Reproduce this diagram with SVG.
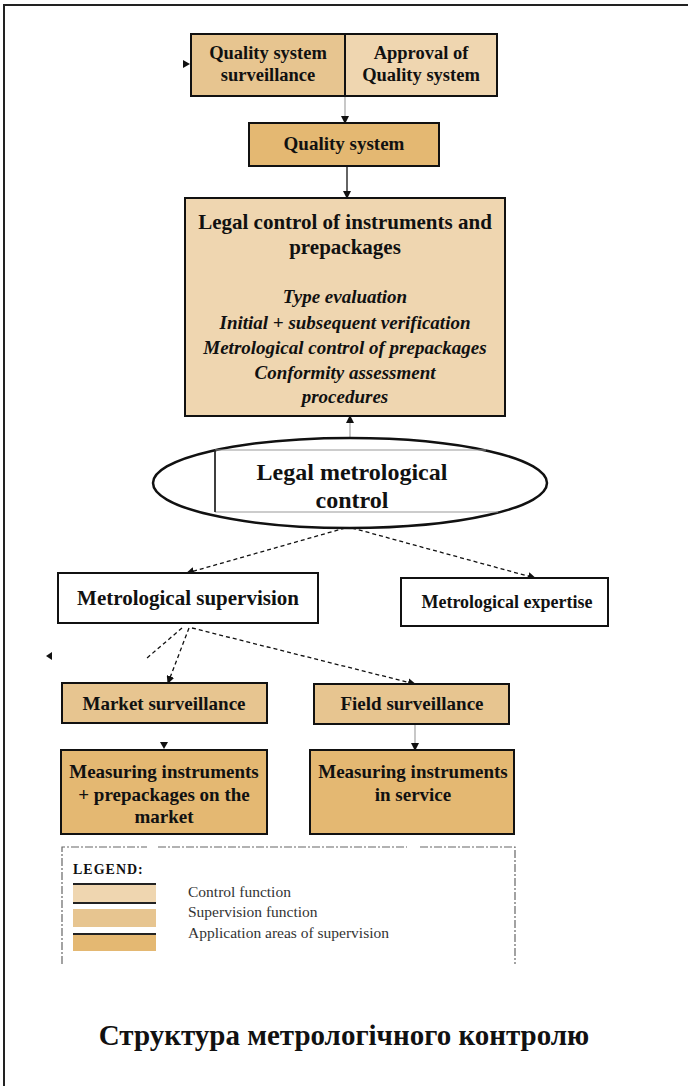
<svg xmlns="http://www.w3.org/2000/svg" width="688" height="1086" viewBox="0 0 688 1086">
<defs>
<style>
.b{stroke:#111;stroke-width:2}
.ctl{fill:#EFD6B0}
.sup{fill:#E7C590}
.app{fill:#E4B872}
.t{font-family:"Liberation Serif","Times New Roman",serif;font-weight:bold;fill:#111;text-anchor:middle}
.i{font-family:"Liberation Serif","Times New Roman",serif;font-weight:bold;font-style:italic;fill:#111;text-anchor:middle}
.lg{font-family:"Liberation Serif","Times New Roman",serif;fill:#333;font-size:15.5px}
.c{fill:none;stroke:#111;stroke-width:1.3}
.g{fill:none;stroke:#aaa;stroke-width:1.3}
.d{fill:none;stroke:#111;stroke-width:1.3;stroke-dasharray:4 3}
</style>
<marker id="ah" markerWidth="8" markerHeight="8" refX="7" refY="4" orient="auto" markerUnits="userSpaceOnUse">
<path d="M0,0 L8,4 L0,8 Z" fill="#111"/>
</marker>
</defs>
<rect x="0" y="0" width="688" height="1086" fill="#fff"/>
<path d="M4,1086 V5 H688" fill="none" stroke="#222" stroke-width="2"/>

<g id="connectors">
<path class="g" d="M345,96 V123" marker-end="url(#ah)"/>
<path class="c" d="M347,166 V198" marker-end="url(#ah)"/>
<path class="g" d="M350,438 V416" marker-end="url(#ah)"/>
<path class="d" d="M345,528 L187,573" marker-end="url(#ah)"/>
<path class="d" d="M352,528 L535,578" marker-end="url(#ah)"/>
<path class="d" d="M182,628 L147,658" stroke-dasharray="2 1"/>
<path class="d" d="M189,628 L168,683" marker-end="url(#ah)"/>
<path class="d" d="M192,628 L415,684" marker-end="url(#ah)"/>
<path class="g" d="M415,724 V750" marker-end="url(#ah)"/>
<path d="M160,742 L168,742 L164,749 Z" fill="#111"/>
<path d="M52,652 L52,660 L46,656 Z" fill="#111"/>
<path d="M183,60 L190,64 L183,68 Z" fill="#111"/>
</g>

<g id="qs-surveillance">
<rect class="sup" x="191" y="34" width="154" height="62"/>
<text class="t" font-size="18.5" x="268" y="59">Quality system</text>
<text class="t" font-size="18.5" x="268" y="81">surveillance</text>
</g>
<g id="qs-approval">
<rect class="ctl" x="345" y="34" width="152" height="62"/>
<text class="t" font-size="18.5" x="421" y="59">Approval of</text>
<text class="t" font-size="18.5" x="421" y="81">Quality system</text>
</g>
<rect x="191" y="34" width="306" height="62" fill="none" class="b"/>
<line x1="345" y1="34" x2="345" y2="96" class="b"/>

<g id="quality-system">
<rect class="app b" x="249" y="123" width="190" height="43"/>
<text class="t" font-size="19" x="344" y="150">Quality system</text>
</g>

<g id="legal-control">
<rect class="ctl b" x="185" y="198" width="320" height="218"/>
<text class="t" font-size="21" x="345" y="229">Legal control of instruments and</text>
<text class="t" font-size="21" x="345" y="254">prepackages</text>
<text class="i" font-size="19" x="345" y="303">Type evaluation</text>
<text class="i" font-size="19" x="345" y="329">Initial + subsequent verification</text>
<text class="i" font-size="19" x="345" y="354">Metrological control of prepackages</text>
<text class="i" font-size="19" x="345" y="379">Conformity assessment</text>
<text class="i" font-size="19" x="345" y="403">procedures</text>
</g>

<g id="legal-metrological-control">
<ellipse cx="350" cy="483" rx="197" ry="45" fill="#fff" stroke="#111" stroke-width="2.5"/>
<path d="M486,450 H215 V512 H498" fill="none" stroke="#999" stroke-width="1"/>
<line x1="215" y1="450" x2="215" y2="512" stroke="#111" stroke-width="1.5"/>
<text class="t" font-size="24" x="352" y="480">Legal metrological</text>
<text class="t" font-size="24" x="352" y="508">control</text>
</g>

<g id="metrological-supervision">
<rect x="58" y="573" width="260" height="50" fill="#fff" class="b"/>
<text class="t" font-size="21" x="188" y="605">Metrological supervision</text>
</g>

<g id="metrological-expertise">
<rect x="401" y="578" width="207" height="48" fill="#fff" class="b"/>
<text class="t" font-size="18" x="507" y="608">Metrological expertise</text>
</g>

<g id="market-surveillance">
<rect class="sup b" x="62" y="683" width="205" height="40"/>
<text class="t" font-size="19" x="164" y="710">Market surveillance</text>
</g>

<g id="field-surveillance">
<rect class="sup b" x="314" y="684" width="195" height="40"/>
<text class="t" font-size="19" x="412" y="710">Field surveillance</text>
</g>

<g id="measuring-market">
<rect class="app b" x="61" y="750" width="206" height="84"/>
<text class="t" font-size="19" x="164" y="778">Measuring instruments</text>
<text class="t" font-size="19" x="164" y="801">+ prepackages on the</text>
<text class="t" font-size="19" x="164" y="823">market</text>
</g>

<g id="measuring-service">
<rect class="app b" x="310" y="750" width="204" height="84"/>
<text class="t" font-size="19" x="413" y="778">Measuring instruments</text>
<text class="t" font-size="19" x="413" y="801">in service</text>
</g>

<g id="legend">
<path d="M62,964 V847 H147 M158,847 H407 M420,847 H515 V964" fill="none" stroke="#666" stroke-width="1.2" stroke-dasharray="8 2 2 2"/>
<text x="73" y="874" font-family="Liberation Serif, serif" font-weight="bold" font-size="14" letter-spacing="1" fill="#111">LEGEND:</text>
<rect class="ctl" x="73" y="884" width="83" height="19"/>
<line x1="73" y1="884" x2="156" y2="884" stroke="#222" stroke-width="2"/>
<line x1="73" y1="903" x2="156" y2="903" stroke="#222" stroke-width="2"/>
<rect class="sup" x="73" y="909" width="83" height="18"/>
<rect class="app" x="73" y="933" width="83" height="18"/>
<line x1="73" y1="934" x2="156" y2="934" stroke="#222" stroke-width="2"/>
<text class="lg" x="188" y="897">Control function</text>
<text class="lg" x="188" y="917">Supervision function</text>
<text class="lg" x="188" y="938">Application areas of supervision</text>
</g>

<text class="t" font-size="29" x="344" y="1045">Структура метрологічного контролю</text>
</svg>
